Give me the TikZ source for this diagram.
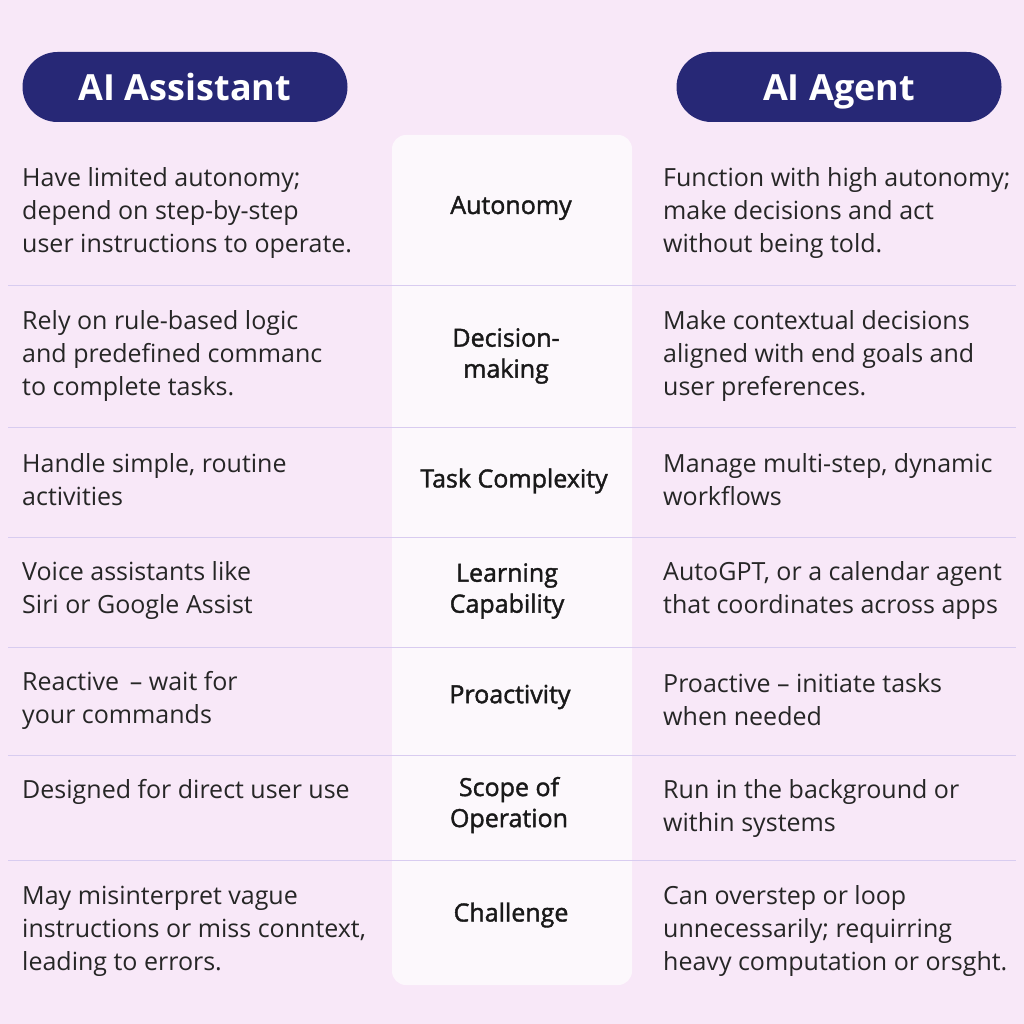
\documentclass[tikz,border=0pt]{standalone}
\usepackage{fontspec}
\setmainfont{Open Sans}
\newfontfamily\medfont[FakeBold=1.6]{Open Sans}
\begin{document}
\begin{tikzpicture}[x=1pt,y=-1pt,
 pill/.style={fill=navy,rounded corners=35pt,minimum width=325pt,minimum height=70pt,text height=31pt,text depth=3pt,text=white,font=\fontsize{36}{40}\selectfont\bfseries},
 cell/.style={anchor=west,align=left,font=\fontsize{25}{33}\selectfont,text=black!85,inner sep=0pt},
 lab/.style={align=center,font=\medfont\fontsize{25}{31}\selectfont,text=black!90,inner sep=0pt},
 sep/.style={draw=sepc,line width=1pt}]
\definecolor{bg}{HTML}{F8E8F8}
\definecolor{navy}{HTML}{272876}
\definecolor{sepc}{HTML}{D8CCF0}
\fill[bg] (0,0) rectangle (1024,1024);
\useasboundingbox (0,0) rectangle (1024,1024);
\fill[white,opacity=0.7,rounded corners=14pt] (392,135) rectangle (632,985);
\node[pill] (ha) at (185,87) {AI Assistant};
\node[pill] (hb) at (839,87) {AI Agent};
\foreach \y in {285,427,537,647,755,860}{\draw[sep] (8,\y) -- (1016,\y);}
\node[cell] (l1) at (22,213) {Have limited autonomy;\\depend on step-by-step\\user instructions to operate.};
\node[lab] (c1) at (511,208) {Autonomy};
\node[cell] (r1) at (663,213) {Function with high autonomy;\\make decisions and act\\without being told.};
\node[cell] (l2) at (22,356) {Rely on rule-based logic\\and predefined commanc\\to complete tasks.};
\node[lab] (c2) at (506,356) {Decision-\\making};
\node[cell] (r2) at (663,356) {Make contextual decisions\\aligned with end goals and\\user preferences.};
\node[cell] (l3) at (22,480) {Handle simple, routine\\activities};
\node[lab] (c3) at (514,481) {Task Complexity};
\node[cell] (r3) at (663,480) {Manage multi-step, dynamic\\workflows};
\node[cell] (l4) at (22,590) {Voice assistants like\\Siri or Google Assist};
\node[lab] (c4) at (507,591) {Learning\\Capability};
\node[cell] (r4) at (663,590) {AutoGPT, or a calendar agent\\that coordinates across apps};
\node[cell] (l5) at (22,700) {Reactive \,-- wait for\\your commands};
\node[lab] (c5) at (510,697) {Proactivity};
\node[cell] (r5) at (663,700) {Proactive -- initiate tasks\\when needed};
\node[cell] (l6) at (22,792) {Designed for direct user use};
\node[lab] (c6) at (509,805) {Scope of\\Operation};
\node[cell] (r6) at (663,808) {Run in the background or\\within systems};
\node[cell] (l7) at (22,931) {May misinterpret vague\\instructions or miss conntext,\\leading to errors.};
\node[lab] (c7) at (511,915) {Challenge};
\node[cell] (r7) at (663,931) {Can overstep or loop\\unnecessarily; requirring\\heavy computation or orsght.};
\end{tikzpicture}
\end{document}
